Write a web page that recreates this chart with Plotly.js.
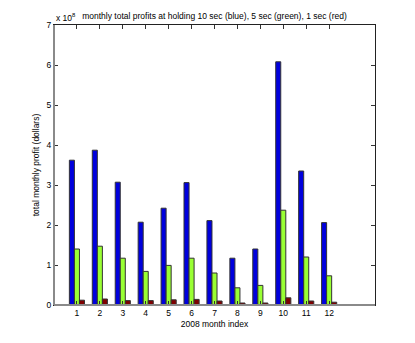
<!DOCTYPE html>
<html>
<head>
<meta charset="utf-8">
<script src="https://cdn.plot.ly/plotly-3.0.1.min.js"></script>
<style>
  html, body { margin: 0; padding: 0; background: #fff; }
  #chart { width: 415px; height: 343px; }
</style>
</head>
<body>
<div id="chart"></div>
<script>
// month index and profits in units of 1e8 dollars
const months = [1, 2, 3, 4, 5, 6, 7, 8, 9, 10, 11, 12];
const hold10 = [3.62, 3.87, 3.07, 2.07, 2.42, 3.06, 2.11, 1.17, 1.40, 6.08, 3.35, 2.06];
const hold5 = [1.40, 1.47, 1.17, 0.84, 0.99, 1.17, 0.80, 0.43, 0.49, 2.37, 1.20, 0.73];
const hold1 = [0.12, 0.15, 0.11, 0.11, 0.13, 0.14, 0.10, 0.05, 0.05, 0.18, 0.10, 0.07];
const yTicks = [0, 1, 2, 3, 4, 5, 6, 7];

const outline = { color: '#333', width: 1 };

const traces = [
    { x: months, y: hold10, type: 'bar', marker: { color: '#0000dd', line: outline } },
    { x: months, y: hold5, type: 'bar', marker: { color: '#99ff33', line: outline } },
    { x: months, y: hold1, type: 'bar', marker: { color: '#800000', line: outline } }
];

const font = { family: 'Liberation Sans, Arial, sans-serif', size: 8.5, color: '#000' };

// grey left/bottom axis lines drawn over the thin dark box
const greyLine = { color: '#8a8a8a', width: 2 };

const layout = {
    width: 415,
    height: 343,
    margin: { l: 54, r: 40, t: 25, b: 38 },
    paper_bgcolor: '#fff',
    plot_bgcolor: '#fff',
    font: font,
    showlegend: false,
    barmode: 'group',
    bargap: 0.34,
    bargroupgap: 0,
    title: {
        text: 'monthly total profits at holding 10 sec (blue), 5 sec (green), 1 sec (red)',
        font: { family: font.family, size: 8.5, color: '#000' },
        x: 0.5, xref: 'paper', xanchor: 'center',
        y: 1, yref: 'paper', yanchor: 'bottom', pad: { b: 6 }
    },
    xaxis: {
        range: [0, 14],
        tickvals: months,
        ticktext: months.map(String),
        ticks: 'inside',
        ticklen: 4,
        tickcolor: '#333',
        mirror: 'ticks',
        showline: true,
        linecolor: '#222',
        linewidth: 1,
        showgrid: false,
        zeroline: false,
        title: { text: '2008 month index', font: font, standoff: 3 }
    },
    yaxis: {
        range: [0, 7],
        tickvals: yTicks,
        ticktext: yTicks.map(String),
        ticks: 'inside',
        ticklen: 4,
        tickcolor: '#333',
        mirror: 'ticks',
        showline: true,
        linecolor: '#222',
        linewidth: 1,
        showgrid: false,
        zeroline: false,
        title: { text: 'total monthly profit (dollars)', font: font, standoff: 5 }
    },
    shapes: [
        { type: 'line', xref: 'paper', yref: 'paper', x0: 0, x1: 1, y0: 0, y1: 0, line: greyLine },
        { type: 'line', xref: 'paper', yref: 'paper', x0: 0, x1: 0, y0: 0, y1: 1, line: greyLine }
    ],
    annotations: [
        {
            text: 'x 10<sup>8</sup>', xref: 'paper', yref: 'paper', x: 0, y: 1,
            xanchor: 'left', yanchor: 'bottom', showarrow: false, font: font, yshift: 0
        }
    ]
};

Plotly.newPlot('chart', traces, layout, { displayModeBar: false, staticPlot: true });
</script>
</body>
</html>
